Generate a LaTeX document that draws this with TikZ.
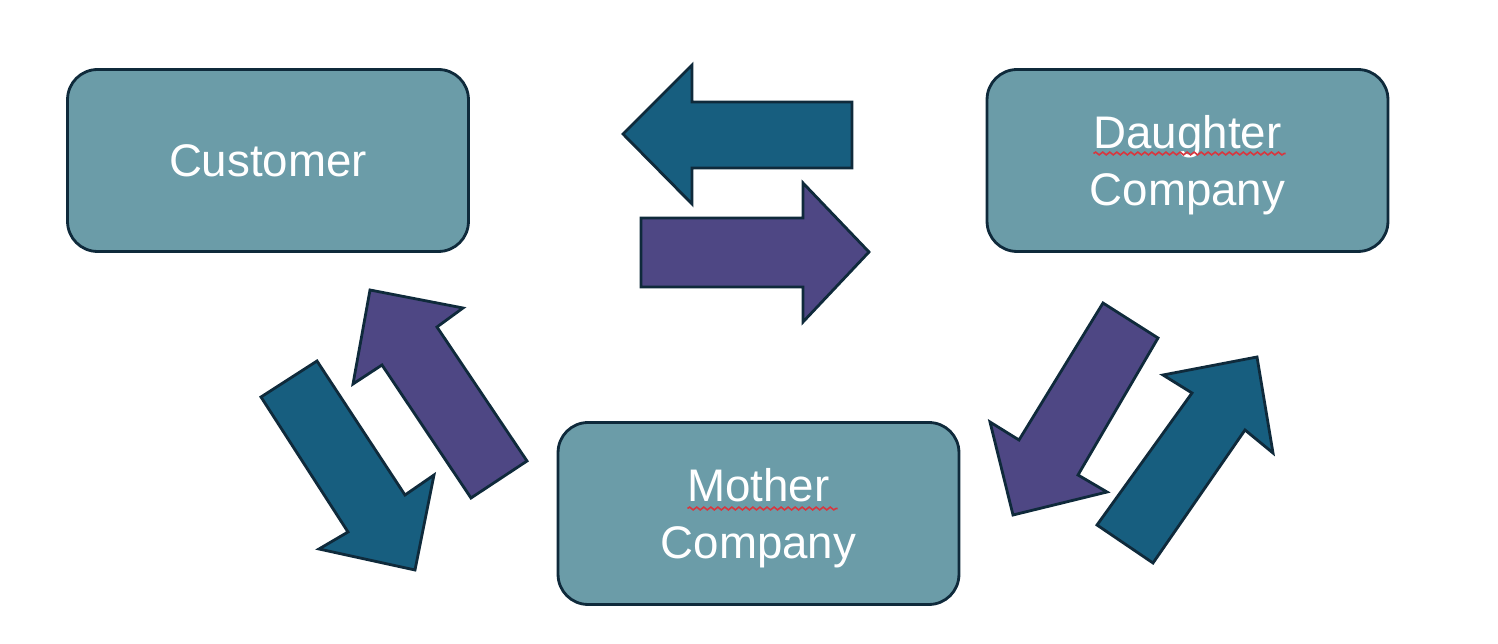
\documentclass[tikz,border=0pt]{standalone}
\usepackage{fontspec}
\setmainfont{Liberation Sans}
\usetikzlibrary{decorations.pathmorphing,calc}
\definecolor{boxfill}{HTML}{6B9CA8}
\definecolor{edgecol}{HTML}{0F2A3B}
\definecolor{arrteal}{HTML}{175E7F}
\definecolor{arrpurple}{HTML}{4E4784}
\definecolor{spellred}{HTML}{D9363E}
\begin{document}
\begin{tikzpicture}[x=0.02cm,y=-0.02cm,
  box/.style={draw=edgecol, line width=1.6pt, fill=boxfill, rounded corners=0.6cm,
    minimum width=8.02cm, minimum height=3.64cm, text=white,
    font=\fontsize{26}{32.5}\selectfont, align=center, inner sep=0pt},
  twoline/.style={text depth=0pt},
  blockarrow/.style={draw=edgecol, line width=1.6pt, line join=miter},
  squiggle/.style={draw=spellred, line width=0.9pt,
    decorate, decoration={snake, segment length=4pt, amplitude=0.8pt}}]
\useasboundingbox (0,0) rectangle (1498,644);

\node[box] (customer) at (268,160.5) {Customer};
\node[box, twoline] (daughter) at (1187.5,160.5) {Daughter\\Company};
\node[box, twoline] (mother) at (758.5,513.5) {Mother\\Company};

% spell-check underlines
\draw[squiggle] ($(daughter.center)+(-94,-7)$) -- ($(daughter.center)+(98,-7)$);
\draw[squiggle] ($(mother.center)+(-71,-5)$) -- ($(mother.center)+(79,-5)$);

% top pair
\draw[blockarrow, fill=arrteal] (623,134) -- (692,65) -- (692,102) -- (852,102)
  -- (852,168) -- (692,168) -- (692,204) -- cycle;
\draw[blockarrow, fill=arrpurple] (641,218) -- (803,218) -- (803,183) -- (869,252)
  -- (803,322) -- (803,287) -- (641,287) -- cycle;

% left pair
\draw[blockarrow, fill=arrteal] (261,397) -- (317,361) -- (405,495) -- (434,475)
  -- (415,570) -- (319,549) -- (348,532) -- cycle;
\draw[blockarrow, fill=arrpurple] (471,498) -- (527,461) -- (437,327) -- (463,308)
  -- (370,290) -- (353,384) -- (382,365) -- cycle;

% right pair
\draw[blockarrow, fill=arrpurple] (1103,303) -- (1158,338) -- (1078,475) -- (1107,492)
  -- (1013,515) -- (990,422) -- (1019,440) -- cycle;
\draw[blockarrow, fill=arrteal] (1097,525) -- (1153,563) -- (1245,430) -- (1273,453)
  -- (1257,357) -- (1163,375) -- (1192,393) -- cycle;
\end{tikzpicture}
\end{document}
